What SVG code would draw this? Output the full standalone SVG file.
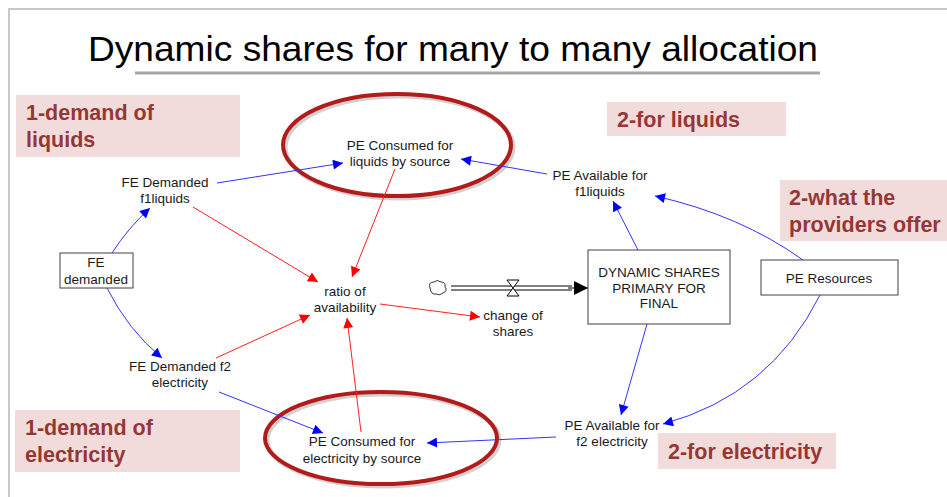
<svg xmlns="http://www.w3.org/2000/svg" width="947" height="497" viewBox="0 0 947 497">
<defs>
<style>
.t{font-family:"Liberation Sans",Arial,sans-serif;font-size:13.5px;fill:#1a1a1a;text-anchor:middle}
.lb{font-family:"Liberation Sans",Arial,sans-serif;font-size:21.5px;font-weight:bold;fill:#953735}
.pk{fill:#f2dcdb}
.box{fill:#fff;stroke:#404040;stroke-width:1}
.blue{fill:none;stroke:#3333ff;stroke-width:1}
.red{fill:none;stroke:#ff2020;stroke-width:1}
.ring{fill:none;stroke:#b31b1b;stroke-width:4}
.shadow{fill:none;stroke:#000;stroke-opacity:0.18;stroke-width:5}
</style>
<marker id="ab" viewBox="0 0 10 10" refX="10" refY="5" markerWidth="14" markerHeight="10" markerUnits="userSpaceOnUse" orient="auto"><path d="M0,0 L10,5 L0,10 Z" fill="#0000ff"/></marker>
<marker id="ar" viewBox="0 0 10 10" refX="10" refY="5" markerWidth="14" markerHeight="10" markerUnits="userSpaceOnUse" orient="auto"><path d="M0,0 L10,5 L0,10 Z" fill="#ff0000"/></marker>
<marker id="ak" viewBox="0 0 10 10" refX="10" refY="5" markerWidth="20" markerHeight="14" markerUnits="userSpaceOnUse" orient="auto"><path d="M0,0 L10,5 L0,10 Z" fill="#000"/></marker>
</defs>
<rect width="947" height="497" fill="#fff"/>
<path d="M9,497 L9,9 L947,9" fill="none" stroke="#c8c8c8" stroke-width="2"/>
<g id="title">
<text x="88" y="61" font-family="'Liberation Sans',Arial,sans-serif" font-size="35" fill="#000" textLength="730" lengthAdjust="spacingAndGlyphs">Dynamic shares for many to many allocation</text>
<line x1="135" y1="73" x2="820" y2="73" stroke="#a6a6a6" stroke-width="3"/>
</g>
<g id="label-demand-liquids"><rect class="pk" x="16" y="95" width="224" height="62"/><text class="lb" x="26" y="120">1-demand  of</text><text class="lb" x="26" y="147">liquids</text></g>
<g id="label-for-liquids"><rect class="pk" x="607" y="102" width="179" height="34"/><text class="lb" x="617" y="127">2-for liquids</text></g>
<g id="label-providers"><rect class="pk" x="780" y="180" width="167" height="61"/><text class="lb" x="789" y="205">2-what the</text><text class="lb" x="789" y="232">providers offer</text></g>
<g id="label-demand-electricity"><rect class="pk" x="15" y="410" width="225" height="62"/><text class="lb" x="25" y="435">1-demand  of</text><text class="lb" x="25" y="462">electricity</text></g>
<g id="label-for-electricity"><rect class="pk" x="658" y="433" width="178" height="36"/><text class="lb" x="668" y="459">2-for electricity</text></g>
<g id="highlights">
<ellipse class="shadow" cx="399" cy="147" rx="114" ry="51"/>
<ellipse class="ring" cx="397" cy="145" rx="114" ry="51"/>
<ellipse class="shadow" cx="383" cy="440" rx="116" ry="46"/>
<ellipse class="ring" cx="381" cy="438" rx="116" ry="46"/>
</g>
<g id="connectors">
<path class="blue" d="M112,253 Q128,228 150,208" marker-end="url(#ab)"/>
<path class="blue" d="M107,288 Q128,330 162,358" marker-end="url(#ab)"/>
<path class="blue" d="M217,183 L343,163" marker-end="url(#ab)"/>
<path class="blue" d="M547,174 L461,159" marker-end="url(#ab)"/>
<path class="blue" d="M638,250 L613,201" marker-end="url(#ab)"/>
<path class="blue" d="M803,260 Q740,215 655,196" marker-end="url(#ab)"/>
<path class="blue" d="M647,324 L621,415" marker-end="url(#ab)"/>
<path class="blue" d="M820,295 Q770,395 663,424" marker-end="url(#ab)"/>
<path class="blue" d="M556,437 L427,443" marker-end="url(#ab)"/>
<path class="blue" d="M219,392 L323,433" marker-end="url(#ab)"/>
<path class="red" d="M193,207 L318,282" marker-end="url(#ar)"/>
<path class="red" d="M395,169 L352,277" marker-end="url(#ar)"/>
<path class="red" d="M216,358 L310,315" marker-end="url(#ar)"/>
<path class="red" d="M361,432 L347,318" marker-end="url(#ar)"/>
<path class="red" d="M380,304 L480,317" marker-end="url(#ar)"/>
<g id="flow">
<line x1="451" y1="286" x2="572" y2="286" stroke="#000" stroke-width="1"/>
<line x1="451" y1="290" x2="572" y2="290" stroke="#000" stroke-width="1"/>
<path d="M568,288 L588,288" stroke="#000" stroke-width="1" marker-end="url(#ak)"/>
<path d="M507,280 L519,280 L507,296 L519,296 Z" fill="#fff" stroke="#000" stroke-width="1"/>
<path d="M430,288 q-2,-6 4,-6 q3,-3 7,0 q5,0 4,5 q3,4 -2,6 q-3,3 -7,1 q-5,1 -6,-6 z" fill="#fff" stroke="#000" stroke-width="0.8"/>
</g>
</g>
<g id="fe-demanded"><rect class="box" x="60" y="253" width="73" height="35"/><text class="t" x="96" y="267">FE</text><text class="t" x="96" y="284">demanded</text></g>
<g id="fe-f1liquids"><text class="t" x="165" y="187">FE Demanded</text><text class="t" x="165" y="203">f1liquids</text></g>
<g id="fe-f2electricity"><text class="t" x="180" y="371">FE Demanded f2</text><text class="t" x="180" y="387">electricity</text></g>
<g id="pe-consumed-liquids"><text class="t" x="400" y="150">PE Consumed for</text><text class="t" x="400" y="166">liquids by source</text></g>
<g id="pe-consumed-electricity"><text class="t" x="362" y="446">PE Consumed for</text><text class="t" x="362" y="463">electricity by source</text></g>
<g id="ratio"><text class="t" x="345" y="296">ratio of</text><text class="t" x="345" y="312">availability</text></g>
<g id="change-shares"><text class="t" x="513" y="320">change of</text><text class="t" x="513" y="336">shares</text></g>
<g id="pe-avail-f1"><text class="t" x="600" y="180">PE Available for</text><text class="t" x="600" y="196">f1liquids</text></g>
<g id="pe-avail-f2"><text class="t" x="612" y="430">PE Available for</text><text class="t" x="612" y="446">f2 electricity</text></g>
<g id="dynamic-shares"><rect class="box" x="588" y="250" width="142" height="74"/><text class="t" x="659" y="277">DYNAMIC SHARES</text><text class="t" x="659" y="293">PRIMARY FOR</text><text class="t" x="659" y="308">FINAL</text></g>
<g id="pe-resources"><rect class="box" x="761" y="260" width="137" height="35"/><text class="t" x="829" y="283">PE Resources</text></g>
</svg>
